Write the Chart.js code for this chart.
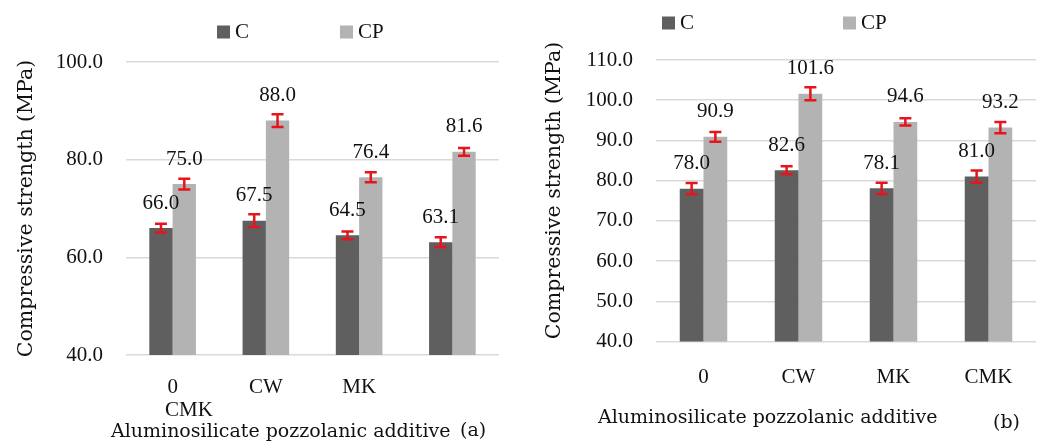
<!DOCTYPE html>
<html>
<head>
<meta charset="utf-8">
<script src="https://cdn.jsdelivr.net/npm/chart.js@4/dist/chart.umd.min.js"></script>
<style>
  html, body { margin: 0; padding: 0; background: #fff; }
  #chartA { position: absolute; left: 0; top: 0; }
  #chartB { position: absolute; left: 520px; top: 0; }
</style>
</head>
<body>
<canvas id="chartA" width="520" height="444"></canvas>
<canvas id="chartB" width="529" height="444"></canvas>
<script>
// categorias e series
const categories = ["0", "CW", "MK", "CMK"];
const seriesNames = ["C", "CP"];

// painel (a)
const aC = [66.0, 67.5, 64.5, 63.1];
const aCP = [75.0, 88.0, 76.4, 81.6];
const aErrC = [0.9, 1.3, 0.8, 1.0];
const aErrCP = [1.1, 1.3, 1.0, 0.8];
const aTicks = [40, 60, 80, 100];

// painel (b)
const bC = [78.0, 82.6, 78.1, 81.0];
const bCP = [90.9, 101.6, 94.6, 93.2];
const bErrC = [1.4, 1.0, 1.4, 1.5];
const bErrCP = [1.2, 1.6, 0.9, 1.4];
const bTicks = [40, 50, 60, 70, 80, 90, 100, 110];

const yTitle = "Compressive strength (MPa)";
const xTitle = "Aluminosilicate pozzolanic additive";

const NUM_FONT = '21px "Liberation Serif"';
const WORD_FONT = '"DejaVu Serif"';
const colors = ['#5f5f5f', '#b3b3b3'];

// desenha barras de erro, rotulos, legenda e textos extras
const extras = {
    id: 'extras',
    afterDatasetsDraw(chart) {
        const ctx = chart.ctx;
        const yScale = chart.scales.y;
        chart.data.datasets.forEach((ds, di) => {
            chart.getDatasetMeta(di).data.forEach((bar, i) => {
                const v = ds.data[i], e = ds.err[i];
                const yt = yScale.getPixelForValue(v + e);
                const yb = yScale.getPixelForValue(v - e);
                ctx.save();
                ctx.strokeStyle = '#e8141c';
                ctx.lineWidth = 2.5;
                ctx.beginPath();
                ctx.moveTo(bar.x, yt); ctx.lineTo(bar.x, yb);
                ctx.moveTo(bar.x - 6, yt); ctx.lineTo(bar.x + 6, yt);
                ctx.moveTo(bar.x - 6, yb); ctx.lineTo(bar.x + 6, yb);
                ctx.stroke();
                ctx.fillStyle = '#111';
                ctx.font = NUM_FONT;
                ctx.textAlign = 'center';
                ctx.textBaseline = 'middle';
                ctx.fillText(v.toFixed(1), bar.x, bar.y - 25);
                ctx.restore();
            });
        });
    },
    afterDraw(chart, args, o) {
        const ctx = chart.ctx;
        ctx.save();
        // legenda
        chart.data.datasets.forEach((ds, i) => {
            ctx.fillStyle = ds.backgroundColor;
            ctx.fillRect(o.legendX[i], o.legendY - 6.5, 13, 13);
            ctx.fillStyle = '#111';
            ctx.font = NUM_FONT;
            ctx.textAlign = 'left';
            ctx.textBaseline = 'middle';
            ctx.fillText(ds.label, o.legendX[i] + 18, o.legendY);
        });
        // titulo do eixo y
        ctx.save();
        ctx.translate(o.yTitleX, o.yTitleY);
        ctx.rotate(-Math.PI / 2);
        ctx.font = '20.5px ' + WORD_FONT;
        ctx.textAlign = 'center';
        ctx.textBaseline = 'middle';
        ctx.fillStyle = '#111';
        ctx.fillText(yTitle, 0, 0);
        ctx.restore();
        // textos soltos
        o.texts.forEach(t => {
            ctx.font = t.font;
            ctx.textAlign = t.align;
            ctx.textBaseline = 'middle';
            ctx.fillStyle = '#111';
            ctx.fillText(t.text, t.x, t.y);
        });
        ctx.restore();
    }
};

function makeChart(id, c, cp, errC, errCP, ticks, cfg) {
    return new Chart(document.getElementById(id), {
        type: 'bar',
        data: {
            labels: categories,
            datasets: [
                { label: seriesNames[0], data: c, err: errC, backgroundColor: colors[0] },
                { label: seriesNames[1], data: cp, err: errCP, backgroundColor: colors[1] }
            ]
        },
        options: {
            responsive: false,
            animation: false,
            devicePixelRatio: 1,
            layout: { padding: cfg.padding },
            datasets: { bar: { categoryPercentage: 0.5, barPercentage: 1.0 } },
            plugins: {
                legend: { display: false },
                tooltip: { enabled: false },
                extras: cfg.extras
            },
            scales: {
                x: {
                    grid: { display: false },
                    border: { display: false },
                    ticks: {
                        color: '#111',
                        font: { family: 'Liberation Serif', size: 21 },
                        padding: cfg.xPad,
                        maxRotation: 0,
                        autoSkip: false,
                        callback: cfg.xLabel
                    },
                    afterFit(scale) { scale.height = cfg.xHeight; }
                },
                y: {
                    min: ticks[0],
                    max: ticks[ticks.length - 1],
                    afterBuildTicks(scale) { scale.ticks = ticks.map(v => ({ value: v })); },
                    grid: { color: '#d9d9d9', lineWidth: 1.5, drawTicks: false },
                    border: { display: false },
                    ticks: {
                        color: '#111',
                        font: { family: 'Liberation Serif', size: 21 },
                        padding: 23,
                        callback: v => v.toFixed(1)
                    },
                    afterFit(scale) { scale.width = cfg.yWidth; }
                }
            }
        },
        plugins: [extras]
    });
}

makeChart('chartA', aC, aCP, aErrC, aErrCP, aTicks, {
    padding: { top: 62, right: 21, left: 0, bottom: 0 },
    yWidth: 126,
    xHeight: 89,
    xPad: 12,
    // no original o rotulo CMK caiu para a linha de baixo
    xLabel: (v, i) => (i === 3 ? '' : categories[i]),
    extras: {
        legendX: [217, 340],
        legendY: 32,
        yTitleX: 27,
        yTitleY: 208.5,
        texts: [
            { text: categories[3], x: 189, y: 410, font: NUM_FONT, align: 'center' },
            { text: xTitle, x: 111, y: 432, font: '19px ' + WORD_FONT, align: 'left' },
            { text: '(a)', x: 460, y: 431, font: '19px ' + WORD_FONT, align: 'left' }
        ]
    }
});

makeChart('chartB', bC, bCP, bErrC, bErrCP, bTicks, {
    padding: { top: 60, right: 13, left: 0, bottom: 0 },
    yWidth: 136,
    xHeight: 102.5,
    xPad: 15,
    xLabel: (v, i) => categories[i],
    extras: {
        legendX: [142, 323],
        legendY: 23,
        yTitleX: 35,
        yTitleY: 190.5,
        texts: [
            { text: xTitle, x: 78, y: 418, font: '19px ' + WORD_FONT, align: 'left' },
            { text: '(b)', x: 473, y: 423, font: '19px ' + WORD_FONT, align: 'left' }
        ]
    }
});
</script>
</body>
</html>
